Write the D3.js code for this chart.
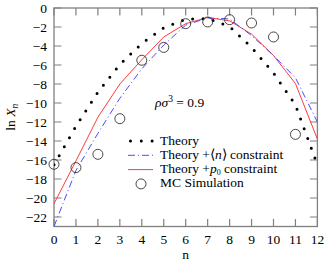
<!DOCTYPE html>
<html>
<head>
<script src="https://cdn.jsdelivr.net/npm/d3@7"></script>
<style>
  body { margin: 0; background: #fff; }
  svg text { font-family: "Liberation Serif", "Times New Roman", serif; fill: #000; }
</style>
</head>
<body>
<svg id="mainsvg" width="327" height="262"></svg>
<script>
// values, index = n
const nValues = [0, 1, 2, 3, 4, 5, 6, 7, 8, 9, 10, 11, 12];
const theory = [-16.5, -12.45, -8.87, -5.95, -3.73, -2.08, -1.19, -1.12, -1.95, -4.15, -6.85, -10.2, -16.5];
const theoryN = [-23.0, -17.1, -13.2, -9.5, -6.4, -3.9, -1.8, -1.05, -1.15, -2.9, -5.0, -7.35, -12.0];
const theoryP0 = [-20.6, -16.1, -11.5, -8.0, -5.45, -3.05, -1.65, -1.0, -1.35, -2.75, -5.0, -7.95, -13.8];
const mcN = [0, 1, 2, 3, 4, 5, 6, 7, 8, 9, 10, 11];
const mcSim = [-16.45, -16.8, -15.4, -11.65, -5.5, -4.15, -1.65, -1.47, -1.23, -1.58, -3.05, -13.3];
const xTicks = d3.range(0, 13);
const yTicks = d3.range(-22, 1, 2);

const svg = d3.select('#mainsvg');
const pLeft = 54, pRight = 317.4, pTop = 8, pBottom = 226.5;
const x = d3.scaleLinear().domain([0, 12]).range([pLeft, pRight]);
const y = d3.scaleLinear().domain([-23, 0]).range([pBottom, pTop]);
const axisColor = '#808080';
const tickLen = 7.5;
const fs = 13.5;
const fmt = d => d < 0 ? '\u2212' + Math.abs(d) : '' + d;

svg.append('clipPath').attr('id', 'plotclip')
  .append('rect').attr('x', pLeft).attr('y', pTop)
  .attr('width', pRight - pLeft).attr('height', pBottom - pTop);

// axes with inward ticks on all four sides
const gAxes = svg.append('g');
gAxes.append('rect')
  .attr('x', pLeft).attr('y', pTop).attr('width', pRight - pLeft).attr('height', pBottom - pTop)
  .attr('fill', 'none').attr('stroke', axisColor).attr('stroke-width', 1.3);

gAxes.selectAll('.xt').data(xTicks).join('path')
  .attr('class', 'xt')
  .attr('d', d => `M${x(d)},${pBottom}v${-tickLen}M${x(d)},${pTop}v${tickLen}`)
  .attr('stroke', axisColor).attr('stroke-width', 1.2);
gAxes.selectAll('.yt').data(yTicks).join('path')
  .attr('class', 'yt')
  .attr('d', d => `M${pLeft},${y(d)}h${tickLen}M${pRight},${y(d)}h${-tickLen}`)
  .attr('stroke', axisColor).attr('stroke-width', 1.2);

svg.selectAll('.xl').data(xTicks).join('text')
  .attr('class', 'xl')
  .attr('x', d => x(d)).attr('y', 244)
  .attr('text-anchor', 'middle').attr('font-size', fs)
  .text(d => d);
svg.selectAll('.yl').data(yTicks).join('text')
  .attr('class', 'yl')
  .attr('x', 47).attr('y', d => y(d) + 4.5)
  .attr('text-anchor', 'end').attr('font-size', fs)
  .text(fmt);

// axis titles
svg.append('text')
  .attr('x', (pLeft + pRight) / 2).attr('y', 258.5)
  .attr('text-anchor', 'middle').attr('font-size', fs)
  .text('n');
const yTitle = svg.append('text')
  .attr('transform', `translate(15,${(pTop + pBottom) / 2}) rotate(-90)`)
  .attr('text-anchor', 'middle').attr('font-size', fs);
yTitle.append('tspan').text('ln ');
yTitle.append('tspan').attr('font-style', 'italic').text('X');
yTitle.append('tspan').attr('font-style', 'italic').attr('font-size', 9.5).attr('dy', 3).text('n');

// curves
const line = d3.line().x((d, i) => x(nValues[i])).y(d => y(d));
const plot = svg.append('g').attr('clip-path', 'url(#plotclip)');

const styles = {
  theory: { stroke: '#000', width: 3, dash: '0 10.4' },
  n: { stroke: '#4a4aff', width: 1, dash: '7 3 1 3' },
  p0: { stroke: '#ff3a3a', width: 1 }
};

plot.append('path').datum(theoryP0).attr('d', line)
  .attr('fill', 'none').attr('stroke', styles.p0.stroke).attr('stroke-width', styles.p0.width);
plot.append('path').datum(theoryN).attr('d', line)
  .attr('fill', 'none').attr('stroke', styles.n.stroke).attr('stroke-width', styles.n.width)
  .attr('stroke-dasharray', styles.n.dash);
plot.append('path').datum(theory).attr('d', line)
  .attr('fill', 'none').attr('stroke', styles.theory.stroke).attr('stroke-width', styles.theory.width)
  .attr('stroke-dasharray', styles.theory.dash).attr('stroke-linecap', 'round');

svg.append('g').selectAll('circle').data(mcSim).join('circle')
  .attr('cx', (d, i) => x(mcN[i])).attr('cy', d => y(d)).attr('r', 5)
  .attr('fill', 'none').attr('stroke', '#333').attr('stroke-width', 0.9);

// annotation
const ann = svg.append('text').attr('x', 155).attr('y', 107).attr('font-size', fs);
ann.append('tspan').attr('font-style', 'italic').text('ρσ');
ann.append('tspan').attr('font-size', 9.5).attr('dy', -5).text('3');
ann.append('tspan').attr('dy', 5).text(' = 0.9');

// legend
const lg = svg.append('g');
const rowY = [141, 155.3, 169.6, 183.9];
lg.append('path').attr('d', `M130.5,${rowY[0]}H153`)
  .attr('stroke', '#000').attr('stroke-width', 3).attr('stroke-dasharray', '0 10.8').attr('stroke-linecap', 'round');
lg.append('path').attr('d', `M128,${rowY[1]}H153`)
  .attr('stroke', styles.n.stroke).attr('stroke-width', 1).attr('stroke-dasharray', styles.n.dash);
lg.append('path').attr('d', `M128,${rowY[2]}H153`)
  .attr('stroke', styles.p0.stroke).attr('stroke-width', 1);
lg.append('circle').attr('cx', 141).attr('cy', rowY[3]).attr('r', 5)
  .attr('fill', 'none').attr('stroke', '#333').attr('stroke-width', 0.9);

lg.append('text').attr('x', 160).attr('y', rowY[0] + 3.5).attr('font-size', fs).text('Theory');
const t2 = lg.append('text').attr('x', 160).attr('y', rowY[1] + 3.5).attr('font-size', fs);
t2.append('tspan').text('Theory +⟨');
t2.append('tspan').attr('font-style', 'italic').text('n');
t2.append('tspan').text('⟩ constraint');
const t3 = lg.append('text').attr('x', 160).attr('y', rowY[2] + 3.5).attr('font-size', fs);
t3.append('tspan').text('Theory +');
t3.append('tspan').attr('font-style', 'italic').text('p');
t3.append('tspan').attr('font-size', 8).attr('dy', 1.5).text('0');
t3.append('tspan').attr('dy', -1.5).text(' constraint');
lg.append('text').attr('x', 160).attr('y', rowY[3] + 3.5).attr('font-size', fs).text('MC Simulation');
</script>
</body>
</html>
